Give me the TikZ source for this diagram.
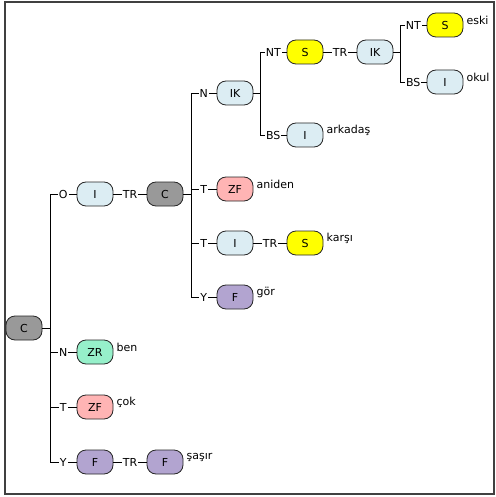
\documentclass[tikz,border=0pt]{standalone}
\usepackage{fontspec}
\setmainfont{DejaVu Sans}
\definecolor{cgray}{HTML}{999999}
\definecolor{cblue}{HTML}{DCEDF3}
\definecolor{cyel}{HTML}{FFFF00}
\definecolor{cpink}{HTML}{FFB4B4}
\definecolor{cmint}{HTML}{96F0CA}
\definecolor{cpurp}{HTML}{B2A4D0}
\definecolor{cframe}{HTML}{404040}
\begin{document}
\begin{tikzpicture}[x=1pt,y=-1pt,
  every node/.style={font=\fontsize{11}{13}\selectfont},
  box/.style={draw=black!85, line width=0.8pt, rounded corners=9pt,
    minimum width=36pt, minimum height=24pt, inner sep=0pt},
  gr/.style={box, fill=cgray},
  bl/.style={box, fill=cblue},
  ye/.style={box, fill=cyel},
  pk/.style={box, fill=cpink},
  mt/.style={box, fill=cmint},
  pu/.style={box, fill=cpurp},
  lab/.style={fill=white, inner sep=1pt},
  word/.style={anchor=west, xshift=2pt, yshift=4.5pt, inner sep=1pt},
  link/.style={line width=0.8pt, black}]
\useasboundingbox (0,0) rectangle (495,497);
\draw[cframe, line width=1.5pt] (5,2) rectangle (494,494);

% nodes
\node[gr] (C0) at (24,328) {C};
\node[bl] (I1) at (95,194) {I};
\node[gr] (C1) at (165,194) {C};
\node[mt] (ZR) at (95,352) {ZR};
\node[pk] (ZF1) at (95,407) {ZF};
\node[pu] (F1) at (95,462) {F};
\node[pu] (F2) at (165,462) {F};
\node[bl] (IK1) at (235,93) {IK};
\node[pk] (ZF2) at (235,189) {ZF};
\node[bl] (I2) at (235,243) {I};
\node[ye] (S2) at (305,243) {S};
\node[pu] (F3) at (235,297) {F};
\node[ye] (S1) at (305,52) {S};
\node[bl] (IK2) at (375,52) {IK};
\node[bl] (I3) at (305,135) {I};
\node[ye] (S3) at (445,25) {S};
\node[bl] (I4) at (445,82) {I};

% words
\node[word] (w1) at (S3.east) {eski};
\node[word] (w2) at (I4.east) {okul};
\node[word] (w3) at (I3.east) {arkadaş};
\node[word] (w4) at (ZF2.east) {aniden};
\node[word] (w5) at (S2.east) {karşı};
\node[word] (w6) at (F3.east) {gör};
\node[word] (w7) at (ZR.east) {ben};
\node[word] (w8) at (ZF1.east) {çok};
\node[word] (w9) at (F2.east) {şaşır};

% trunk coordinates
\coordinate (tA) at (50,328);
\coordinate (tB) at (191,194);
\coordinate (tC) at (260,93);
\coordinate (tD) at (400,52);

% connectors
\draw[link] (C0.east) -- (tA) |- node[lab,pos=0.75]{O} (I1.west);
\draw[link] (tA) |- node[lab,pos=0.75]{N} (ZR.west);
\draw[link] (tA) |- node[lab,pos=0.75]{T} (ZF1.west);
\draw[link] (tA) |- node[lab,pos=0.75]{Y} (F1.west);
\draw[link] (I1.east) -- node[lab]{TR} (C1.west);
\draw[link] (F1.east) -- node[lab]{TR} (F2.west);

\draw[link] (C1.east) -- (tB) |- node[lab,pos=0.75]{N} (IK1.west);
\draw[link] (tB) |- node[lab,pos=0.75]{T} (ZF2.west);
\draw[link] (tB) |- node[lab,pos=0.75]{T} (I2.west);
\draw[link] (tB) |- node[lab,pos=0.75]{Y} (F3.west);
\draw[link] (I2.east) -- node[lab]{TR} (S2.west);

\draw[link] (IK1.east) -- (tC) |- node[lab,pos=0.75]{NT} (S1.west);
\draw[link] (tC) |- node[lab,pos=0.75]{BS} (I3.west);
\draw[link] (S1.east) -- node[lab]{TR} (IK2.west);

\draw[link] (IK2.east) -- (tD) |- node[lab,pos=0.75]{NT} (S3.west);
\draw[link] (tD) |- node[lab,pos=0.75]{BS} (I4.west);
\end{tikzpicture}
\end{document}
